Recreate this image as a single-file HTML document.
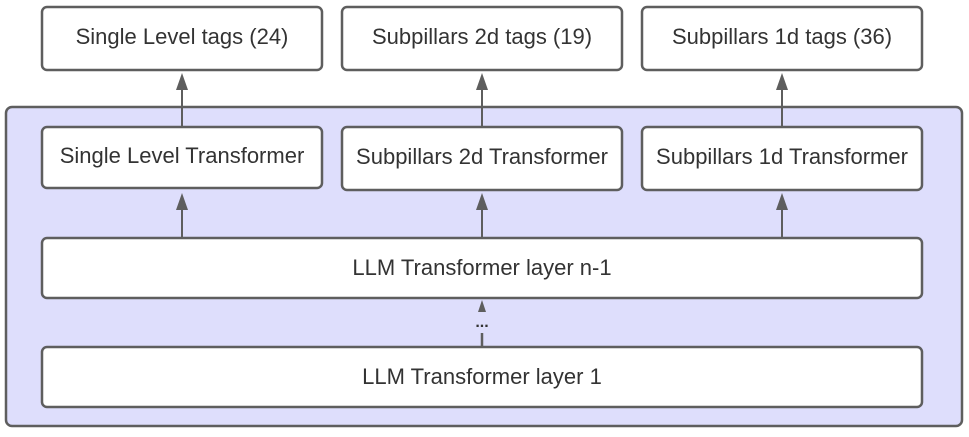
<!DOCTYPE html>
<html><head><style>
body{margin:0;width:969px;height:432px;background:#fff;overflow:hidden;font-family:"Liberation Sans",sans-serif}
</style></head><body>
<svg width="969" height="432" xmlns="http://www.w3.org/2000/svg" font-family="Liberation Sans, sans-serif" font-size="22" fill="#333">
<rect x="6" y="107" width="956" height="319" rx="6" fill="#dedefc" stroke="#5e5e5e" stroke-width="2.5"/>
<g fill="#fff" stroke="#5e5e5e" stroke-width="2.5">
<rect x="42" y="7" width="280" height="63" rx="5"/>
<rect x="342" y="7" width="280" height="63" rx="5"/>
<rect x="642" y="7" width="280" height="63" rx="5"/>
<rect x="42" y="127" width="280" height="61" rx="5"/>
<rect x="342" y="127" width="280" height="63" rx="5"/>
<rect x="642" y="127" width="280" height="63" rx="5"/>
<rect x="42" y="238" width="880" height="60" rx="5"/>
<rect x="42" y="347" width="880" height="60" rx="5"/>
</g>
<g stroke="#5e5e5e" stroke-width="2">
<line x1="182" y1="88" x2="182" y2="127"/><line x1="482" y1="88" x2="482" y2="127"/><line x1="782" y1="88" x2="782" y2="127"/>
<line x1="182" y1="208" x2="182" y2="238"/><line x1="482" y1="208" x2="482" y2="238"/><line x1="782" y1="208" x2="782" y2="238"/>
<line x1="482" y1="333" x2="482" y2="347" stroke-width="2.5"/>
</g>
<g fill="#5e5e5e">
<polygon points="176,90 188,90 182,73"/><polygon points="476,90 488,90 482,73"/><polygon points="776,90 788,90 782,73"/>
<polygon points="176,210 188,210 182,193"/><polygon points="476,210 488,210 482,193"/><polygon points="776,210 788,210 782,193"/>
<polygon points="478,312 486,312 482,300"/>
</g>
<g text-anchor="middle">
<text x="182" y="44">Single Level tags (24)</text>
<text x="482" y="44">Subpillars 2d tags (19)</text>
<text x="782" y="44">Subpillars 1d tags (36)</text>
<text x="182" y="163">Single Level Transformer</text>
<text x="482" y="164">Subpillars 2d Transformer</text>
<text x="782" y="164">Subpillars 1d Transformer</text>
<text x="482" y="275">LLM Transformer layer n-1</text>
<text x="482" y="384">LLM Transformer layer 1</text>
<text x="482" y="327" font-size="16" font-weight="bold">...</text>
</g>
</svg>
</body></html>
